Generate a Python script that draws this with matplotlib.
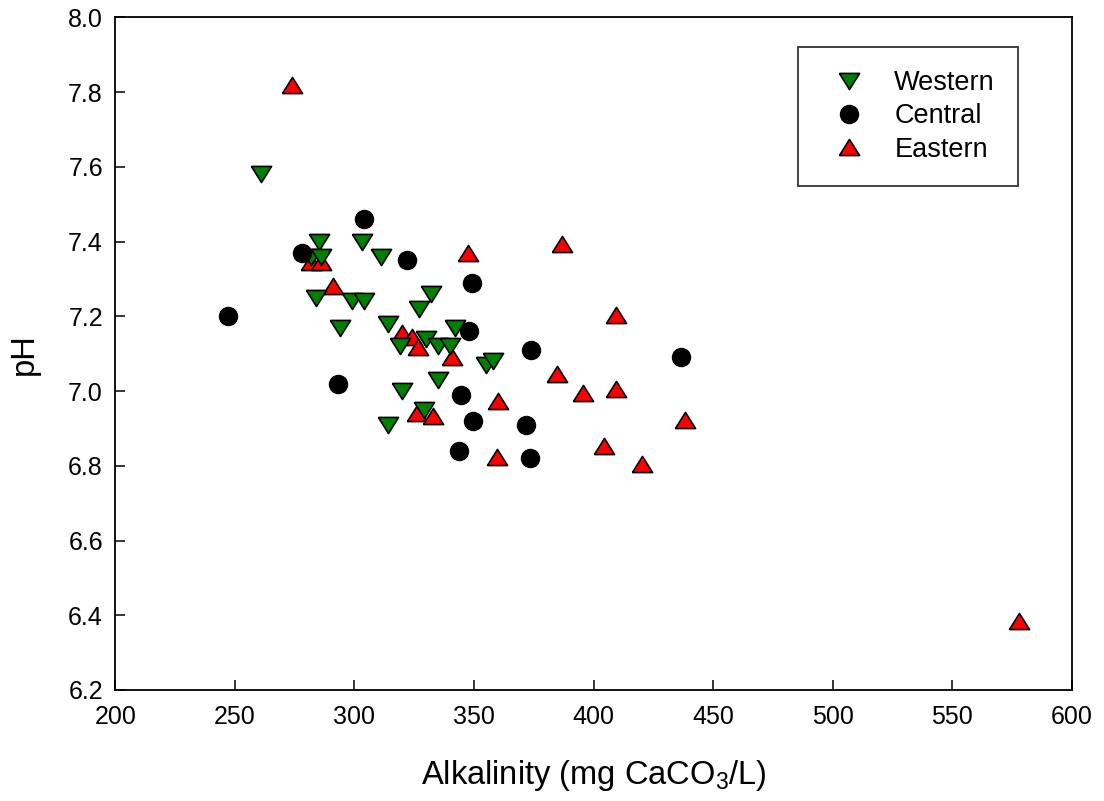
import matplotlib
matplotlib.use("Agg")
import matplotlib.pyplot as plt
from matplotlib.lines import Line2D

plt.rcParams['font.family'] = ['Liberation Sans', 'DejaVu Sans']
plt.rcParams['mathtext.default'] = 'regular'

# Western (down triangles)
western_alk = [261, 285, 303, 311, 282, 286, 284, 299, 304, 332, 327, 294, 314,
               319, 330, 342, 335, 340, 355, 358, 335, 320, 329, 314]
western_ph = [7.58, 7.40, 7.40, 7.36, 7.36, 7.36, 7.25, 7.24, 7.24, 7.26, 7.22, 7.17, 7.18,
              7.12, 7.14, 7.17, 7.12, 7.12, 7.07, 7.08, 7.03, 7.00, 6.95, 6.91]

# Central (circles)
central_alk = [247, 278, 304, 322, 349, 348, 293, 344.5, 349.6, 343.7, 374, 371.6, 373.4, 436.6]
central_ph = [7.20, 7.37, 7.46, 7.35, 7.29, 7.16, 7.02, 6.99, 6.92, 6.84, 7.11, 6.91, 6.82, 7.09]

# Eastern (up triangles)
eastern_alk = [274, 291, 282, 286, 347.5, 320, 324, 326.5, 341, 360, 326, 333, 359.5,
               387, 409.4, 384.7, 395.5, 409.4, 438.3, 404.4, 420.3, 578]
eastern_ph = [7.82, 7.28, 7.345, 7.345, 7.37, 7.155, 7.144, 7.118, 7.091, 6.973, 6.941, 6.933, 6.824,
              7.394, 7.204, 7.046, 6.995, 7.005, 6.922, 6.853, 6.805, 6.385]

xticks = [200, 250, 300, 350, 400, 450, 500, 550, 600]
yticks = [6.2, 6.4, 6.6, 6.8, 7.0, 7.2, 7.4, 7.6, 7.8, 8.0]

down_tri = [(-1, 0.8), (1, 0.8), (0, -0.8), (-1, 0.8)]
up_tri = [(-1, -0.8), (1, -0.8), (0, 0.8), (-1, -0.8)]

fig = plt.figure(figsize=(11.04, 8.01), dpi=100)
ax = fig.add_axes([0.1046, 0.1386, 0.866, 0.8396])

ms = 14.5
ax.plot(eastern_alk, eastern_ph, linestyle='none', marker=up_tri, ms=ms,
        mfc='#ff0000', mec='black', mew=1.2, zorder=3)
ax.plot(western_alk, western_ph, linestyle='none', marker=down_tri, ms=ms,
        mfc='#008000', mec='black', mew=1.2, zorder=4)
ax.plot(central_alk, central_ph, linestyle='none', marker='o', ms=13,
        mfc='black', mec='black', mew=1.0, zorder=5)

ax.set_xlim(200, 600)
ax.set_ylim(6.2, 8.0)
ax.set_xticks(xticks)
ax.set_yticks(yticks)
ax.set_xticklabels([str(v) for v in xticks])
ax.set_yticklabels([f"{v:.1f}" for v in yticks])
ax.tick_params(direction='in', length=7, width=1.1, labelsize=18,
               top=False, right=False, pad=9)
ax.tick_params(axis='x', pad=11)
for s in ax.spines.values():
    s.set_linewidth(1.3)

ax.set_xlabel('Alkalinity (mg CaCO$_3$/L)', fontsize=23.5, labelpad=21)
ax.set_ylabel('pH', fontsize=23.5, labelpad=20)

handles = [
    Line2D([], [], linestyle='none', marker=down_tri, ms=ms, mfc='#008000', mec='black', mew=1.2),
    Line2D([], [], linestyle='none', marker='o', ms=13, mfc='black', mec='black'),
    Line2D([], [], linestyle='none', marker=up_tri, ms=ms, mfc='#ff0000', mec='black', mew=1.2),
]
leg = ax.legend(handles, ['Western', 'Central', 'Eastern'], loc='upper right',
                bbox_to_anchor=(0.944, 0.956), fontsize=19.5, frameon=True,
                fancybox=False, edgecolor='black', borderpad=0.85,
                handlelength=2.05, handletextpad=0.65, labelspacing=0.27,
                borderaxespad=0)
leg.get_frame().set_linewidth(1.3)

fig.savefig('out.png', dpi=100)
